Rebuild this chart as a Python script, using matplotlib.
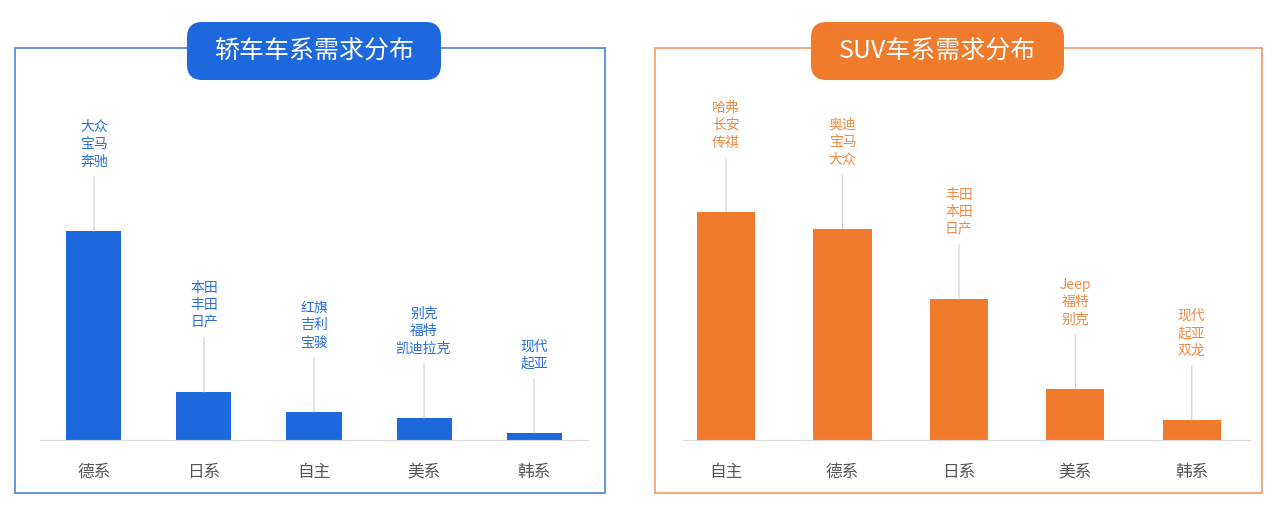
import matplotlib.pyplot as plt
from matplotlib.patches import Rectangle, FancyBboxPatch

plt.rcParams['font.family'] = ['Noto Sans CJK SC', 'DejaVu Sans']

# sedan panel
sedan_cats = ['德系', '日系', '自主', '美系', '韩系']
sedan_vals = [209, 48, 28, 22, 7]
sedan_brands = ['大众\n宝马\n奔驰', '本田\n丰田\n日产', '红旗\n吉利\n宝骏',
                '别克\n福特\n凯迪拉克', '现代\n起亚']

# suv panel
suv_cats = ['自主', '德系', '日系', '美系', '韩系']
suv_vals = [228, 211, 141, 51, 20]
suv_brands = ['哈弗\n长安\n传祺', '奥迪\n宝马\n大众', '丰田\n本田\n日产',
              'Jeep\n福特\n别克', '现代\n起亚\n双龙']

BLUE = '#1c68dc'
ORANGE = '#f07b2c'
W, H = 1280, 518

fig = plt.figure(figsize=(12.8, 5.18), dpi=100)


def px_box(x0, y0, x1, y1):
    return (x0 / W, 1 - y1 / H, (x1 - x0) / W, (y1 - y0) / H)


def panel(x0, x1, xlim, cats, vals, brands, color, txtcolor):
    ax = fig.add_axes(px_box(x0, 90, x1, 440))
    ax.bar(range(len(cats)), vals, width=0.5, color=color, zorder=2)
    for i, (v, b) in enumerate(zip(vals, brands)):
        ax.annotate(b, xy=(i, v), xytext=(0, 45), textcoords='offset points',
                    ha='center', va='bottom', fontsize=10, color=txtcolor,
                    linespacing=1.3, fontweight='medium',
                    arrowprops=dict(arrowstyle='-', color='#d0d0d0', lw=0.8,
                                    shrinkA=4, shrinkB=0))
    ax.set_xlim(*xlim)
    ax.set_ylim(0, 350)
    ax.set_xticks(range(len(cats)))
    ax.set_xticklabels(cats, fontsize=12, color='#555555')
    ax.tick_params(axis='x', length=0, pad=17)
    ax.set_yticks([])
    for s in ['top', 'right', 'left']:
        ax.spines[s].set_visible(False)
    ax.spines['bottom'].set_color('#d9d9d9')
    ax.patch.set_alpha(0)
    return ax


panel(40, 588, (-0.49, 4.49), sedan_cats, sedan_vals, sedan_brands, BLUE, '#2a6fdb')
panel(683, 1250, (-0.37, 4.5), suv_cats, suv_vals, suv_brands, ORANGE, '#f08a45')

# frames
fig.patches.append(Rectangle(px_box(15, 48, 605, 493)[:2], 590 / W, 445 / H,
                             transform=fig.transFigure, fill=False,
                             edgecolor='#5b8fd8', lw=1.3, zorder=0))
fig.patches.append(Rectangle(px_box(655, 48, 1262, 493)[:2], 607 / W, 445 / H,
                             transform=fig.transFigure, fill=False,
                             edgecolor='#f3a473', lw=1.3, zorder=0))

# title boxes
for (x0, x1, col, title) in [(187, 441, BLUE, '轿车车系需求分布'),
                             (811, 1064, ORANGE, 'SUV车系需求分布')]:
    bx, by, bw, bh = px_box(x0, 22, x1, 80)
    fig.patches.append(FancyBboxPatch((bx, by), bw, bh, transform=fig.transFigure,
                                      boxstyle='round,pad=0,rounding_size=0.012',
                                      facecolor=col, edgecolor='none', zorder=3,
                                      mutation_aspect=W / H))
    fig.text(bx + bw / 2, by + bh / 2, title, ha='center', va='center',
             fontsize=18, color='white', fontweight='medium', zorder=4)

fig.savefig('out.png', dpi=100, facecolor='white')
